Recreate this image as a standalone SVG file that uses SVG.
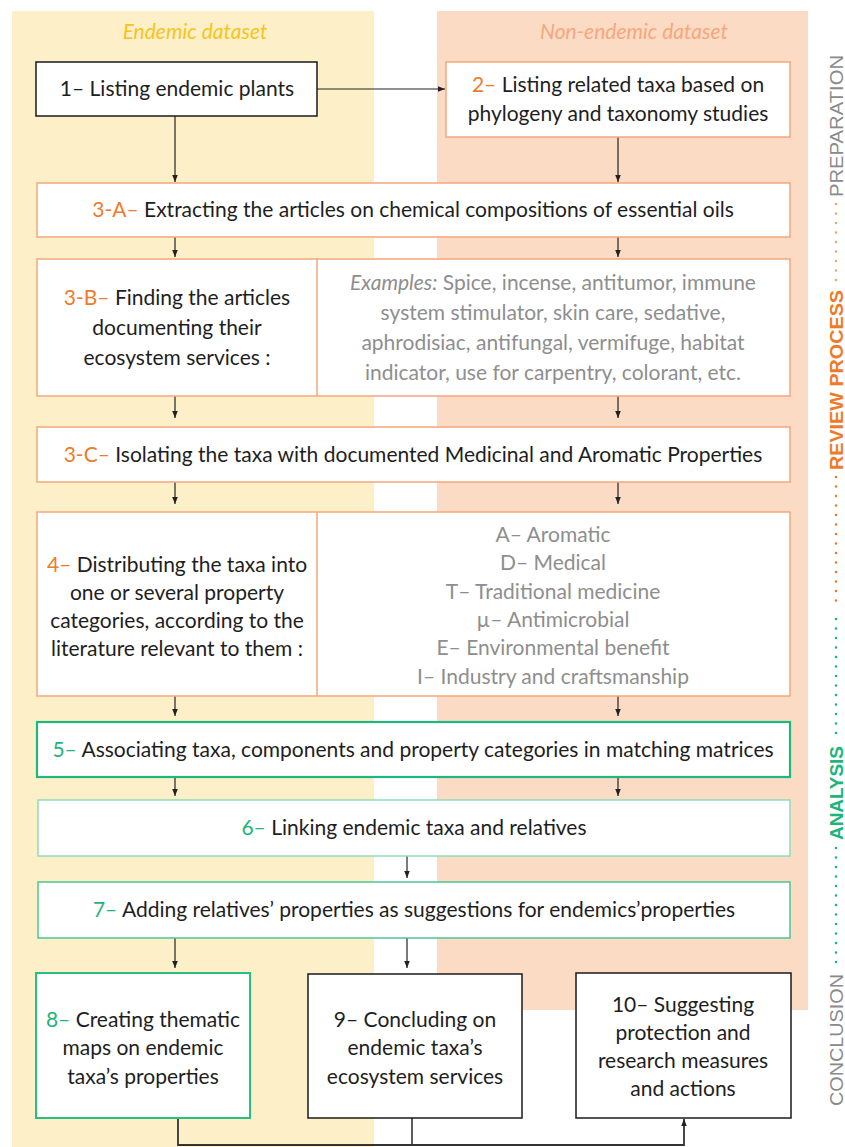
<svg xmlns="http://www.w3.org/2000/svg" width="845" height="1147" viewBox="0 0 845 1147">
<defs>
<marker id="ah" viewBox="0 0 10 10" refX="10" refY="5" markerWidth="7" markerHeight="7" markerUnits="userSpaceOnUse" orient="auto">
<path d="M0,1 L10,5 L0,9 z" fill="#222"/>
</marker>
</defs>
<style>
.t{font-family:Lato,"Liberation Sans",sans-serif;font-size:21px;fill:#1e1e1e;text-anchor:middle}
.g{fill:#8e8e8e}
.o{fill:#ef7b2a}
.gn{fill:#1cb57a}
.box{fill:#fff;stroke-width:1.5}
.bk{stroke:#1a1a1a}
.or{stroke:#f5a67c}
.g5{stroke:#1fb87c;stroke-width:2.2}
.g6{stroke:#8fdbb9}
.g7{stroke:#4cc693}
.g8{stroke:#27c07f;stroke-width:2}
.side{font-family:"Liberation Sans",sans-serif;font-size:19px;text-anchor:middle;dominant-baseline:central}
.arr{stroke:#222;stroke-width:1.2;fill:none;marker-end:url(#ah)}
.dot{stroke-width:2.6;stroke-linecap:round;stroke-dasharray:0 9.5;fill:none}
</style>

<g id="background">
<rect x="12" y="11" width="362" height="1136" fill="#fdf0c8"/>
<rect x="437" y="11" width="371" height="999" fill="#fcdbc4"/>
<text class="t" x="195" y="39" style="font-style:italic;fill:#f6c41c">Endemic dataset</text>
<text class="t" x="634" y="39" style="font-style:italic;fill:#f6a77e">Non-endemic dataset</text>
</g>

<g id="side-labels">
<text class="side" transform="translate(836,126) rotate(-90)" fill="#8a8a8a" textLength="142" lengthAdjust="spacingAndGlyphs">PREPARATION</text>
<line class="dot" x1="836" y1="204" x2="836" y2="284" stroke="#f3a36f"/>
<text class="side" transform="translate(836,380) rotate(-90)" fill="#ef7b2a" font-weight="bold" textLength="180" lengthAdjust="spacingAndGlyphs">REVIEW PROCESS</text>
<line class="dot" x1="836" y1="477" x2="836" y2="610" stroke="#ef7b2a"/>
<line class="dot" x1="836" y1="619" x2="836" y2="742" stroke="#1cb57a"/>
<text class="side" transform="translate(836,793) rotate(-90)" fill="#1cb57a" font-weight="bold" textLength="94" lengthAdjust="spacingAndGlyphs">ANALYSIS</text>
<line class="dot" x1="836" y1="848" x2="836" y2="966" stroke="#1cb57a"/>
<text class="side" transform="translate(836,1040) rotate(-90)" fill="#8a8a8a" textLength="132" lengthAdjust="spacingAndGlyphs">CONCLUSION</text>
</g>

<g id="connectors">
<line class="arr" x1="317" y1="89" x2="445" y2="89"/>
<line class="arr" x1="175" y1="116" x2="175" y2="182"/>
<line class="arr" x1="618" y1="137" x2="618" y2="182"/>
<line class="arr" x1="175" y1="237" x2="175" y2="257"/>
<line class="arr" x1="618" y1="237" x2="618" y2="257"/>
<line class="arr" x1="175" y1="396" x2="175" y2="418"/>
<line class="arr" x1="618" y1="396" x2="618" y2="418"/>
<line class="arr" x1="175" y1="482" x2="175" y2="504"/>
<line class="arr" x1="618" y1="482" x2="618" y2="504"/>
<line class="arr" x1="175" y1="696" x2="175" y2="716"/>
<line class="arr" x1="618" y1="696" x2="618" y2="716"/>
<line class="arr" x1="175" y1="777" x2="175" y2="796"/>
<line class="arr" x1="618" y1="777" x2="618" y2="796"/>
<line class="arr" x1="407" y1="856" x2="407" y2="878"/>
<line class="arr" x1="175" y1="938" x2="175" y2="968"/>
<line class="arr" x1="407" y1="938" x2="407" y2="968"/>
<line x1="412" y1="1118" x2="412" y2="1145" stroke="#333" stroke-width="1.6"/>
<path d="M178,1118 V1145 H684 V1119" stroke="#333" stroke-width="1.8" fill="none" marker-end="url(#ah)"/>
</g>

<g id="n1">
<rect class="box bk" x="36" y="62" width="281" height="54"/>
<text class="t" x="177" y="96">1– Listing endemic plants</text>
</g>

<g id="n2">
<rect class="box or" x="446" y="62" width="344" height="75"/>
<text class="t" x="618" y="92"><tspan class="o">2–</tspan> Listing related taxa based on</text>
<text class="t" x="618" y="121">phylogeny and taxonomy studies</text>
</g>

<g id="n3a">
<rect class="box or" x="37" y="183" width="753" height="54"/>
<text class="t" x="413" y="217"><tspan class="o">3-A–</tspan> Extracting the articles on chemical compositions of essential oils</text>
</g>

<g id="n3b">
<rect class="box or" x="37" y="259" width="753" height="137"/>
<line x1="317" y1="259" x2="317" y2="396" stroke="#f5a67c" stroke-width="1.5"/>
<text class="t" x="177" y="305"><tspan class="o">3-B–</tspan> Finding the articles</text>
<text class="t" x="177" y="335">documenting their</text>
<text class="t" x="177" y="365">ecosystem services :</text>
<text class="t g" x="553" y="290"><tspan font-style="italic">Examples:</tspan> Spice, incense, antitumor, immune</text>
<text class="t g" x="553" y="320">system stimulator, skin care, sedative,</text>
<text class="t g" x="553" y="350">aphrodisiac, antifungal, vermifuge, habitat</text>
<text class="t g" x="553" y="380">indicator, use for carpentry, colorant, etc.</text>
</g>

<g id="n3c">
<rect class="box or" x="37" y="427" width="753" height="55"/>
<text class="t" x="413" y="462"><tspan class="o">3-C–</tspan> Isolating the taxa with documented Medicinal and Aromatic Properties</text>
</g>

<g id="n4">
<rect class="box or" x="37" y="512" width="753" height="184"/>
<line x1="317" y1="512" x2="317" y2="696" stroke="#f5a67c" stroke-width="1.5"/>
<text class="t" x="177" y="572"><tspan class="o">4–</tspan> Distributing the taxa into</text>
<text class="t" x="177" y="600">one or several property</text>
<text class="t" x="177" y="628">categories, according to the</text>
<text class="t" x="177" y="656">literature relevant to them :</text>
<text class="t g" x="553" y="542">A– Aromatic</text>
<text class="t g" x="553" y="570">D– Medical</text>
<text class="t g" x="553" y="599">T– Traditional medicine</text>
<text class="t g" x="553" y="627">µ– Antimicrobial</text>
<text class="t g" x="553" y="655">E– Environmental benefit</text>
<text class="t g" x="553" y="684">I– Industry and craftsmanship</text>
</g>

<g id="n5">
<rect class="box g5" x="37" y="722" width="753" height="55"/>
<text class="t" x="413" y="757"><tspan class="gn">5–</tspan> Associating taxa, components and property categories in matching matrices</text>
</g>

<g id="n6">
<rect class="box g6" x="38" y="800" width="752" height="56"/>
<text class="t" x="414" y="835"><tspan class="gn">6–</tspan> Linking endemic taxa and relatives</text>
</g>

<g id="n7">
<rect class="box g7" x="38" y="882" width="752" height="56"/>
<text class="t" x="414" y="917"><tspan class="gn">7–</tspan> Adding relatives’ properties as suggestions for endemics’properties</text>
</g>

<g id="n8">
<rect class="box g8" x="36" y="973" width="214" height="145"/>
<text class="t" x="143" y="1027"><tspan class="gn">8–</tspan> Creating thematic</text>
<text class="t" x="143" y="1055">maps on endemic</text>
<text class="t" x="143" y="1084">taxa’s properties</text>
</g>

<g id="n9">
<rect class="box bk" x="308" y="974" width="214" height="144"/>
<text class="t" x="415" y="1027">9– Concluding on</text>
<text class="t" x="415" y="1055">endemic taxa’s</text>
<text class="t" x="415" y="1084">ecosystem services</text>
</g>

<g id="n10">
<rect class="box bk" x="576" y="973" width="215" height="145"/>
<text class="t" x="683" y="1012">10– Suggesting</text>
<text class="t" x="683" y="1040">protection and</text>
<text class="t" x="683" y="1068">research measures</text>
<text class="t" x="683" y="1096">and actions</text>
</g>
</svg>
